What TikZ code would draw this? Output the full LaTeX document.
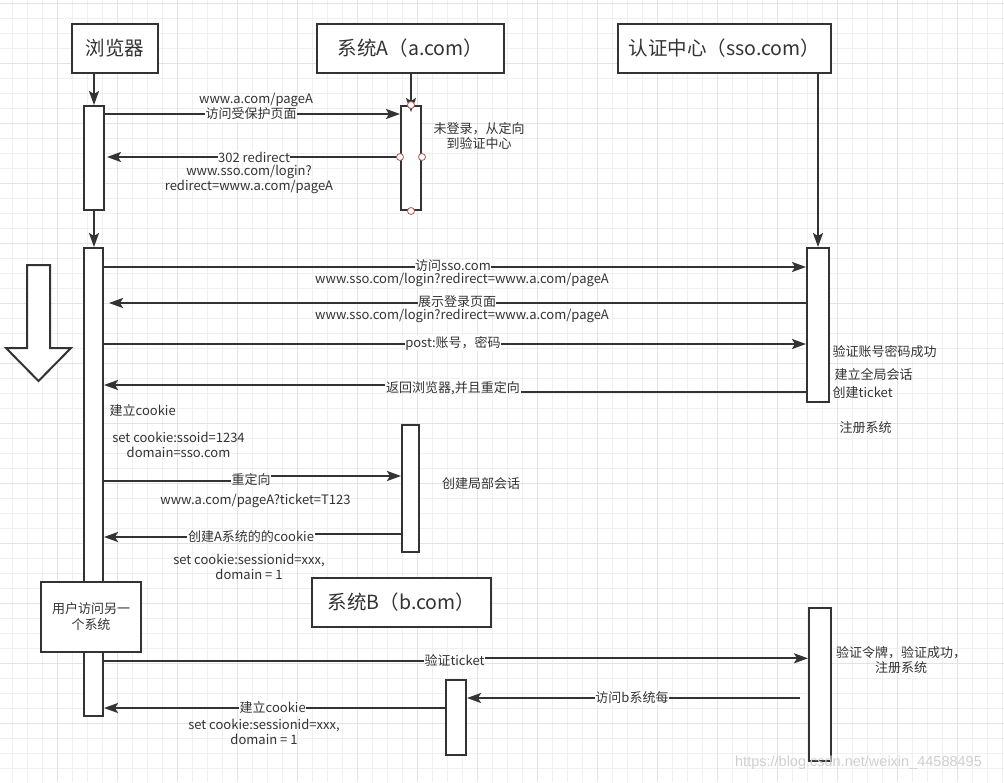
\documentclass[tikz,border=0pt]{standalone}
\usepackage{fontspec}
\newfontfamily\cjk{Noto Sans CJK SC}
\usetikzlibrary{arrows.meta}
\definecolor{dark}{HTML}{333333}
\definecolor{txt}{HTML}{333333}
\definecolor{gridminor}{HTML}{F0F0F0}
\definecolor{gridmajor}{HTML}{E3E3E3}
\definecolor{handlecol}{HTML}{B85450}
\definecolor{wm}{HTML}{CFCFCF}
\tikzset{
  box/.style={draw=dark, line width=2pt, fill=white, inner sep=0pt, anchor=north west},
  head/.style={box, font=\cjk\fontsize{19.5}{22}\selectfont, text=txt},
  lab/.style={font=\cjk\fontsize{13}{15}\selectfont, text=txt, inner sep=0.5pt, align=center},
  labw/.style={lab, fill=white},
  tight/.style={inner sep=0pt, text height=9.5pt, text depth=2.5pt},
  arr/.style={draw=dark, line width=2pt, -{Stealth[length=14pt,width=10pt,inset=3pt]}},
  ln/.style={draw=dark, line width=2pt},
  handle/.style={circle, draw=handlecol, fill=white, minimum size=7pt, inner sep=0pt, line width=0.8pt},
}
\begin{document}
\begin{tikzpicture}[x=1pt,y=-1pt]
\useasboundingbox (0,0) rectangle (1004,782);
\fill[white] (0,0) rectangle (1004,782);
% grid
\foreach \i in {0,...,66} \draw[gridminor, line width=1pt] (12.3+15*\i,0) -- (12.3+15*\i,782);
\foreach \i in {0,...,52} \draw[gridminor, line width=1pt] (0,3.3+15*\i) -- (1004,3.3+15*\i);
\foreach \i in {0,...,16} \draw[gridmajor, line width=1pt] (57.3+60*\i,0) -- (57.3+60*\i,782);
\foreach \i in {0,...,13} \draw[gridmajor, line width=1pt] (0,3.3+60*\i) -- (1004,3.3+60*\i);

% headers
\node[head, minimum width=86pt, minimum height=49pt] (hb) at (71,23) {浏览器};
\node[head, minimum width=187pt, minimum height=49pt] (ha) at (316,23) {系统A（a.com）};
\node[head, minimum width=213pt, minimum height=49pt] (hs) at (617,23) {认证中心（sso.com）};
\node[head, minimum width=179pt, minimum height=49pt] (hB) at (311,577) {系统B（b.com）};

% activations
\node[box, minimum width=20pt, minimum height=104pt] (b1) at (83,105) {};
\node[box, minimum width=19pt, minimum height=468pt] (b2) at (83,247) {};
\node[box, minimum width=20pt, minimum height=104pt] (a1) at (400,105) {};
\node[box, minimum width=17pt, minimum height=127pt] (a2) at (401,424) {};
\node[box, minimum width=22pt, minimum height=154pt] (s1) at (806,247) {};
\node[box, minimum width=22pt, minimum height=153pt] (s2) at (808,607) {};
\node[box, minimum width=20pt, minimum height=75pt] (bB) at (445,679) {};
\node[box, minimum width=100pt, minimum height=70pt, font=\cjk\fontsize{13}{16}\selectfont, text=txt, align=center] (user) at (40,581) {用户访问另一\\个系统};

% lifelines
\draw[arr] (hb.south -| b1.north) -- (b1.north);
\draw[arr] (b1.south) -- (b2.north -| b1.south);
\draw[arr, shorten >=-7pt] (ha.south -| a1.north) -- (a1.north);
\draw[arr] (hs.south -| s1.north) -- (s1.north);

% big hollow arrow
\draw[draw=dark, line width=2pt, fill=white, line join=miter] (27,265) -- (50,265) -- (50,348) -- (71,348) -- (38.5,381) -- (6,348) -- (27,348) -- cycle;

% messages
\draw[arr] (b1.east |- 0,114) -- (a1.west |- 0,114);
\node[lab] (l1a) at (256,100) {www.a.com/pageA};
\node[labw] (l1b) at (251,114) {访问受保护页面};

\draw[arr, shorten >=2pt] (a1.west |- 0,157) -- (b1.east |- 0,157);
\node[labw] (l2a) at (254,157) {302 redirect};
\node[lab] (l2b) at (249,179.5) {www.sso.com/login?\\redirect=www.a.com/pageA};

\node[handle] (h1) at (a1.north) {};
\node[handle] (h2) at (a1.west |- 0,157) {};
\node[handle] (h3) at (a1.east |- 0,157) {};
\node[handle] (h4) at (a1.south) {};
\node[lab] (n1) at (479,136) {未登录，从定向\\到验证中心};

\draw[arr] (b2.east |- 0,267) -- (s1.west |- 0,267);
\node[labw, tight] (l3a) at (453,267) {访问sso.com};
\node[lab, tight] (l3b) at (462,280) {www.sso.com/login?redirect=www.a.com/pageA};

\draw[arr, shorten >=5pt] (s1.west |- 0,303) -- (b2.east |- 0,303);
\node[labw, tight] (l4a) at (457,303) {展示登录页面};
\node[lab, tight] (l4b) at (462,316) {www.sso.com/login?redirect=www.a.com/pageA};

\draw[arr] (b2.east |- 0,344) -- (s1.west |- 0,344);
\node[labw] (l5) at (453,343) {post:账号，密码};

\node[lab] (l6) at (453,388) {返回浏览器,并且重定向};
\draw[ln] (s1.west |- 0,392) -- (l6.east |- 0,392);
\draw[arr] (l6.west |- 0,385) -- (b2.east |- 0,385);

\node[lab, anchor=west] (n2) at (832,352) {验证账号密码成功};
\node[lab, anchor=west] (n3) at (834,374) {建立全局会话};
\node[lab, anchor=west] (n4) at (832,393) {创建ticket};
\node[lab, anchor=west] (n5) at (839,428) {注册系统};

\node[lab, anchor=west] (n6) at (109,411) {建立cookie};
\node[lab] (n7) at (178.5,445) {set cookie:ssoid=1234\\domain=sso.com};

\node[lab] (l7a) at (251,480) {重定向};
\draw[ln] (b2.east |- 0,481) -- (l7a.west |- 0,481);
\draw[arr] (l7a.east |- 0,476) -- (a2.west |- 0,476);
\node[lab] (l7b) at (255.5,501) {www.a.com/pageA?ticket=T123};
\node[lab] (n8) at (481,484) {创建局部会话};

\node[lab] (l8a) at (251,537) {创建A系统的的cookie};
\draw[ln] (a2.west |- 0,534) -- (l8a.east |- 0,534);
\draw[arr] (l8a.west |- 0,537) -- (b2.east |- 0,537);
\node[lab] (l8b) at (249,566.5) {set cookie:sessionid=xxx,\\domain = 1};

\node[lab] (l9) at (454.5,660) {验证ticket};
\draw[ln] (b2.east |- 0,660.7) -- (l9.west |- 0,660.7);
\draw[arr] (l9.east |- 0,658.3) -- (s2.west |- 0,658.3);
\node[lab] (n9) at (901,660.5) {验证令牌，验证成功，\\注册系统};

\draw[arr, shorten <=8pt] (s2.west |- 0,698) -- (bB.east |- 0,698);
\node[labw] (l10) at (632,698) {访问b系统每};

\draw[arr] (bB.west |- 0,708) -- (b2.east |- 0,708);
\node[labw] (l11a) at (272.7,708) {建立cookie};
\node[lab] (l11b) at (264,731.5) {set cookie:sessionid=xxx,\\domain = 1};

\node[font=\fontspec{Liberation Sans}\fontsize{14.5}{16}\selectfont, text=wm, inner sep=0pt] (wmk) at (858.5,763) {https://blog.csdn.net/weixin\_44588495};
\end{tikzpicture}
\end{document}
